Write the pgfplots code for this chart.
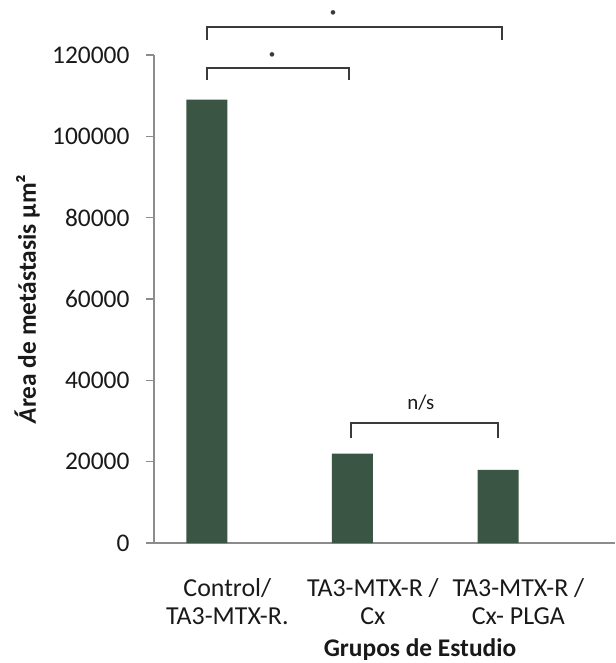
\documentclass[border=0pt]{standalone}
\usepackage{pgfplots}
\pgfplotsset{compat=1.18}
\usepackage{fontspec}
\setmainfont{Carlito}
\definecolor{bargreen}{HTML}{3A5543}
\definecolor{axgray}{HTML}{8C8C8C}
\definecolor{brk}{HTML}{3A3A3A}
\begin{document}
\begin{tikzpicture}
\begin{axis}[
  scale only axis,
  width=461bp, height=488bp,
  at={(0,0)}, anchor=south west,
  xmin=-0.364, xmax=2.804,
  ymin=0, ymax=120000,
  clip=false,
  axis x line*=bottom, axis y line*=left,
  axis line style={axgray, line width=1.2bp},
  ytick={0,20000,...,120000},
  scaled y ticks=false,
  yticklabel style={/pgf/number format/fixed, /pgf/number format/1000 sep={}, font=\fontsize{25.5}{28}\selectfont, text=black!90, xshift=-13bp},
  /pgf/number format/assume math mode=true,
  y tick style={axgray, line width=1.2bp},
  tick align=outside,
  major tick length=8bp,
  xtick={0.14,1.14,2.14},
  xticklabels={{Control/\\TA3-MTX-R.},{TA3-MTX-R /\\Cx},{TA3-MTX-R /\\Cx- PLGA}},
  x tick style={draw=none},
  xticklabel style={align=center, font=\fontsize{26}{28}\selectfont, text=black!90, yshift=-24bp},
  xlabel={\textbf{Grupos de Estudio}},
  xlabel style={at={(axis description cs:0.577,-0.219)}, anchor=center, font=\fontsize{25.5}{28}\selectfont, text=black!90},
  ylabel={\textbf{\textit{Á}rea de metástasis µm²}},
  ylabel style={at={(axis description cs:-0.275,0.5)}, anchor=center, font=\fontsize{25.5}{28}\selectfont, text=black!90},
]
\addplot[ybar, bar width=41bp, fill=bargreen, draw=none] coordinates {(0,109000) (1,22000) (2,18000)};
% significance brackets
\draw[brk, line width=2.2bp] (axis cs:0,123700) -- (axis cs:0,126900) -- (axis cs:2.03,126900) -- (axis cs:2.03,123700);
\draw[brk, line width=2.2bp] (axis cs:0,113900) -- (axis cs:0,116800) -- (axis cs:0.976,116800) -- (axis cs:0.976,113900);
\draw[brk, line width=2.2bp] (axis cs:0.99,25800) -- (axis cs:0.99,29500) -- (axis cs:2.0,29500) -- (axis cs:2.0,25800);
\node[font=\fontsize{13}{13}\selectfont, text=brk] at (axis cs:0.866,130300) {•};
\node[font=\fontsize{13}{13}\selectfont, text=brk] at (axis cs:0.447,119800) {•};
\node[font=\fontsize{21}{24}\selectfont, text=black!90] at (axis cs:1.47,34400) {n/s};
\end{axis}
\pgfresetboundingbox
\path[use as bounding box] (-154bp,-120bp) rectangle (462bp,543bp);
\end{tikzpicture}
\end{document}
